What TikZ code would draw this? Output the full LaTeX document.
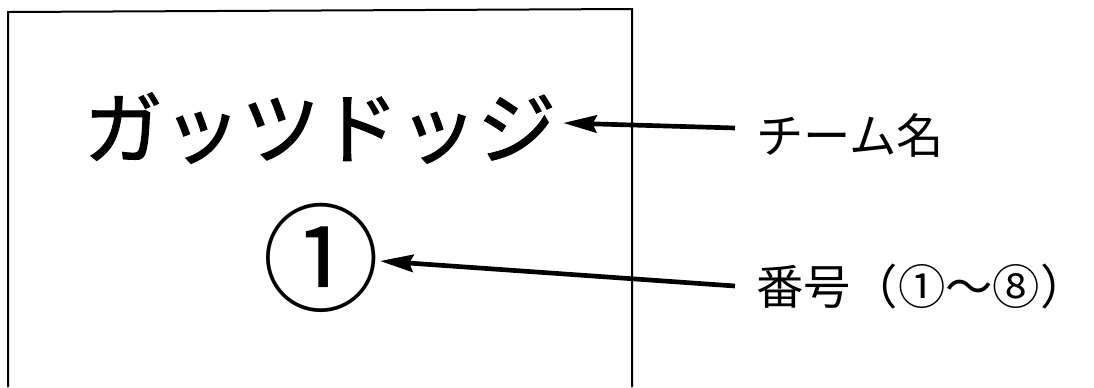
\documentclass[tikz,border=0pt]{standalone}
\usepackage{fontspec}
\newfontfamily\jpfont{Noto Sans CJK JP}
\newfontfamily\jptitle{Noto Sans CJK JP}[FakeBold=1.5]
\usetikzlibrary{arrows.meta,positioning}
\tikzset{name label/.style={anchor=west,font=\jpfont\fontsize{35.5}{38}\selectfont,inner sep=0pt}}
\tikzset{point arrow/.style={line width=3.5pt,-{Stealth[length=25pt,width=13pt,inset=3pt]}}}

\begin{document}
\begin{tikzpicture}[x=0.75pt,y=-0.75pt]
\useasboundingbox (0,0) rectangle (1094,387);
\draw[black, line width=1.5pt] (8,387) -- (8,12) -- (632,9) -- (632,387);

% card
\node[font=\jptitle\fontsize{59}{62}\selectfont,inner sep=0pt] (team) at (320,128) {ガッツドッジ};
\node[font=\jpfont\fontsize{88}{92}\selectfont,inner sep=0pt] (num) at (321,258) {①};

% labels
\node[name label] (teamname) at (756,135) {チーム名};
\node[name label] (numname) at (756,287) {番号（①～⑧）};

\draw[point arrow] ([shift={(-21,-7)}]teamname.west) -- ([shift={(7,-5)}]team.east);
\draw[point arrow] ([shift={(-21,-1)}]numname.west) -- ([shift={(0,3)}]num.east);
\end{tikzpicture}
\end{document}
